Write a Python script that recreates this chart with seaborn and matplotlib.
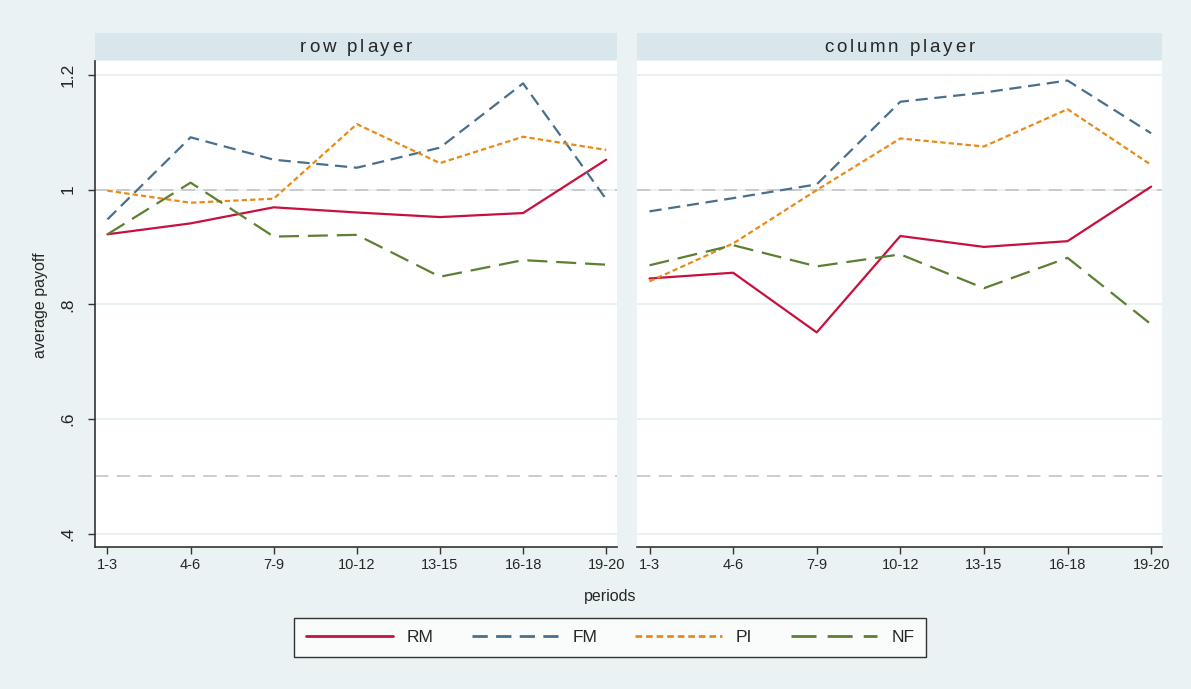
import pandas as pd
import numpy as np
import matplotlib
matplotlib.use("Agg")
import matplotlib.pyplot as plt
from matplotlib.font_manager import FontProperties
import seaborn as sns

sns.set_theme(style="white")
plt.rcParams['font.family'] = ['Liberation Sans', 'DejaVu Sans']

# data
periods = ["1-3", "4-6", "7-9", "10-12", "13-15", "16-18", "19-20"]
treatments = ["RM", "FM", "PI", "NF"]

row_rm = [0.922, 0.941, 0.969, 0.960, 0.952, 0.959, 1.052]
row_fm = [0.948, 1.091, 1.052, 1.038, 1.073, 1.185, 0.983]
row_pi = [0.998, 0.977, 0.984, 1.114, 1.046, 1.092, 1.069]
row_nf = [0.922, 1.012, 0.918, 0.921, 0.848, 0.877, 0.869]

col_rm = [0.845, 0.855, 0.751, 0.919, 0.900, 0.910, 1.005]
col_fm = [0.962, 0.985, 1.009, 1.153, 1.169, 1.190, 1.098]
col_pi = [0.840, 0.906, 0.999, 1.089, 1.075, 1.140, 1.043]
col_nf = [0.868, 0.903, 0.866, 0.887, 0.828, 0.881, 0.765]

panels = {
    "row player": [row_rm, row_fm, row_pi, row_nf],
    "column player": [col_rm, col_fm, col_pi, col_nf],
}

rows = []
for panel, series in panels.items():
    for name, vals in zip(treatments, series):
        for i, v in enumerate(vals):
            rows.append({"panel": panel, "treatment": name, "pos": i,
                         "period": periods[i], "payoff": v})
df = pd.DataFrame(rows)

palette = {"RM": "#C8103E", "FM": "#4A6F8C", "PI": "#EA8A16", "NF": "#5C7F33"}
dashes = {"RM": "", "FM": (5.5, 3), "PI": (2.4, 1.4), "NF": (9, 4)}

bg = "#EAF2F3"
strip_col = "#D9E6EB"
W, H = 1191, 689
fig = plt.figure(figsize=(W / 100, H / 100), dpi=100, facecolor=bg)
renderer = fig.canvas.get_renderer()


def tracked_text(s, cx, cy, size, track):
    # draw text char by char with extra letter spacing (pixels)
    fp = FontProperties(family="Liberation Sans", size=size)
    widths = [renderer.get_text_width_height_descent(c, fp, ismath=False)[0] for c in s]
    total = sum(widths) + track * (len(s) - 1)
    x = cx - total / 2
    for c, w in zip(s, widths):
        fig.text(x / W, 1 - cy / H, c, fontproperties=fp, ha="left", va="center")
        x += w + track


panel_x = {"row player": (95, 617), "column player": (637, 1162)}
plot_top, plot_bot = 61, 547
strip_top, strip_bot = 33, 60

axes = []
for k, (panel, (x0, x1)) in enumerate(panel_x.items()):
    ax = fig.add_axes([x0 / W, 1 - plot_bot / H, (x1 - x0) / W, (plot_bot - plot_top) / H])
    ax.set_facecolor("white")
    for yv in [0.4, 0.6, 0.8, 1.0, 1.2]:
        ax.axhline(yv, color="#E6EFF1", lw=1.2, zorder=0)
    for yv in [1.0, 0.5]:
        ax.axhline(yv, color="#C4C4C4", lw=1.2, dashes=(8, 5), zorder=1)
    sns.lineplot(data=df[df.panel == panel], x="pos", y="payoff", hue="treatment",
                 style="treatment", hue_order=treatments, style_order=treatments,
                 palette=palette, dashes=dashes, linewidth=1.6, ax=ax,
                 legend=(k == 0), zorder=3)
    ax.set_xlim(-0.15, 6.13)
    ax.set_ylim(0.377, 1.224)
    ax.set_xticks(range(len(periods)))
    ax.set_xticklabels(periods, fontsize=10.5)
    ax.set_xlabel("")
    ax.set_ylabel("")
    for s in ["top", "right"]:
        ax.spines[s].set_visible(False)
    ax.spines["bottom"].set_color("#333333")
    ax.spines["bottom"].set_linewidth(1.2)
    ax.tick_params(axis="x", direction="out", length=5, width=1, color="#333333",
                   bottom=True, pad=3)
    if k == 0:
        ax.spines["left"].set_color("#333333")
        ax.spines["left"].set_linewidth(1.2)
        ax.set_yticks([0.4, 0.6, 0.8, 1.0, 1.2])
        ax.set_yticklabels([".4", ".6", ".8", "1", "1.2"], rotation=90,
                           va="center", fontsize=12.5)
        ax.tick_params(axis="y", direction="out", length=5, width=1, color="#333333",
                       left=True, pad=9)
        handles, labels = ax.get_legend_handles_labels()
        ax.get_legend().remove()
    else:
        ax.spines["left"].set_visible(False)
        ax.set_yticks([0.4, 0.6, 0.8, 1.0, 1.2])
        ax.tick_params(axis="y", left=False, labelleft=False)
    axes.append(ax)

    sax = fig.add_axes([x0 / W, 1 - strip_bot / H, (x1 - x0) / W, (strip_bot - strip_top) / H])
    sax.set_facecolor(strip_col)
    sax.set_xticks([])
    sax.set_yticks([])
    for s in sax.spines.values():
        s.set_visible(False)
    tracked_text(panel, (x0 + x1) / 2, 47, 13.5, 2.8)

fig.text(40 / W, 1 - 305 / H, "average payoff", rotation=90, ha="center",
         va="center", fontsize=11.5)
fig.text(610 / W, 1 - 597 / H, "periods", ha="center", va="center", fontsize=11.5)

leg = fig.legend(handles, labels, loc="center", bbox_to_anchor=(610 / W, 1 - 637.5 / H),
                 ncol=4, fontsize=12.5, frameon=True, fancybox=False,
                 handlelength=5.0, columnspacing=2.2, handletextpad=0.8,
                 borderpad=0.7)
leg.get_frame().set_edgecolor("black")
leg.get_frame().set_linewidth(1.0)
leg.get_frame().set_facecolor("white")
for line in leg.get_lines():
    line.set_linewidth(2.0)

fig.savefig("out.png", dpi=100, facecolor=bg)
